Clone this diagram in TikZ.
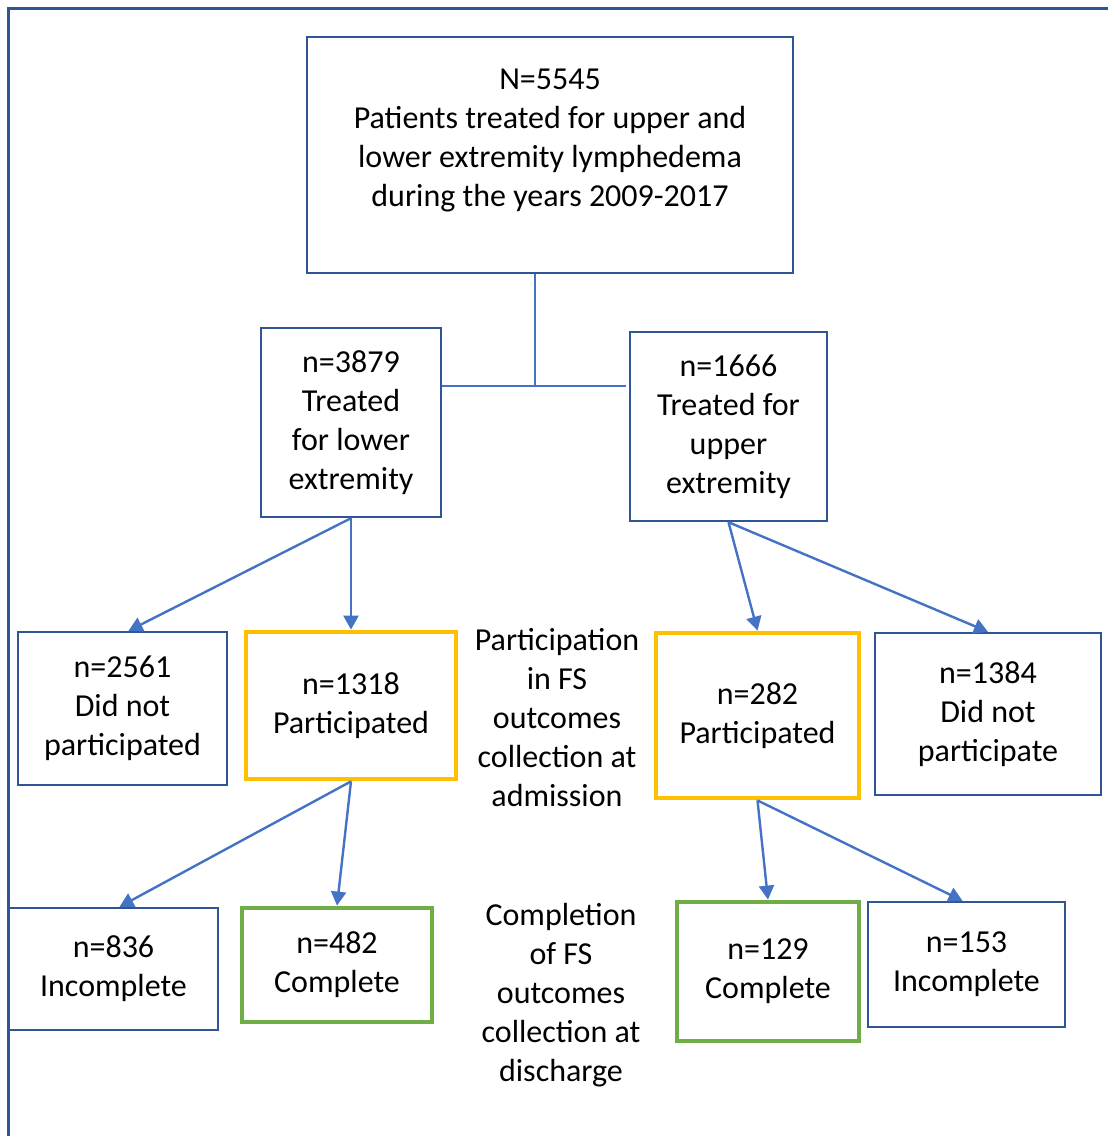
\documentclass[tikz,border=0pt]{standalone}
\usepackage{fontspec}
\setmainfont{Carlito}
\usetikzlibrary{arrows.meta}
\definecolor{boxblue}{HTML}{2F5597}
\definecolor{linkblue}{HTML}{4472C4}
\definecolor{partyellow}{HTML}{FFC000}
\definecolor{donegreen}{HTML}{70AD47}
\tikzset{
  txt/.style={align=center},
  box/.style={txt, draw=boxblue, line width=1.2pt, inner sep=2pt},
  partbox/.style={box, draw=partyellow, line width=2.4pt},
  donebox/.style={box, draw=donegreen, line width=2.4pt},
  link/.style={draw=linkblue, line width=1.2pt},
  flow/.style={link, -{Triangle[width=7.5pt,length=7pt]}}
}
\begin{document}
\begin{tikzpicture}[x=0.5pt, y=-0.5pt, font=\fontsize{16}{19.5}\selectfont]
  \useasboundingbox (0,0) rectangle (1108,1136);
  % frame
  \draw [boxblue, line width=1.5pt] (8,1136) -- (8,8) -- (1108,8);

  % all patients
  \node [draw=boxblue, line width=1.2pt, minimum width=243pt, minimum height=118pt] (all) at (550,155) {};
  \node [txt] (allText) at (550,140.5)
        {N=5545\\Patients treated for upper and\\lower extremity lymphedema\\during the years 2009-2017};

  % lower / upper
  \node [box, minimum width=90pt, minimum height=94.5pt] (lower) at (351,422.5)
        {n=3879\\Treated\\for lower\\extremity};
  \node [box, minimum width=98.5pt, minimum height=94.5pt] (upper) at (728.5,426.5)
        {n=1666\\Treated for\\upper\\extremity};

  % admission
  \node [box, minimum width=104.5pt, minimum height=76.5pt] (noLow) at (122.5,708.5)
        {n=2561\\Did not\\participated};
  \node [partbox, minimum width=105pt, minimum height=73.5pt] (partLow) at (351,705.5)
        {n=1318\\Participated};
  \node [txt] (admit) at (557,717.5)
        {Participation\\in FS\\outcomes\\collection at\\admission};
  \node [partbox, minimum width=101.5pt, minimum height=82.5pt] (partUp) at (757.5,715.5)
        {n=282\\Participated};
  \node [box, minimum width=113pt, minimum height=81pt] (noUp) at (988,714)
        {n=1384\\Did not\\participate};

  % discharge
  \node [box, minimum width=104.5pt, minimum height=61pt] (incLow) at (113.5,969)
        {n=836\\Incomplete};
  \node [donebox, minimum width=95pt, minimum height=57pt] (compLow) at (337,965)
        {n=482\\Complete};
  \node [txt] (disch) at (561,995)
        {Completion\\of FS\\outcomes\\collection at\\discharge};
  \node [donebox, minimum width=91pt, minimum height=69.5pt] (compUp) at (768,971.5)
        {n=129\\Complete};
  \node [box, minimum width=98.5pt, minimum height=62.5pt] (incUp) at (966.5,964.5)
        {n=153\\Incomplete};

  % split
  \coordinate (join) at (535,386);
  \draw [link] (all.south -| join) -- (join)
               (lower.east |- join) -- ([xshift=-1.5pt]upper.west |- join);

  % arrows
  \draw [flow] (lower.south) -- ([xshift=3pt]noLow.north);
  \draw [flow] (lower.south) -- (partLow.north);
  \draw [flow] (upper.south) -- (partUp.north);
  \draw [flow] (upper.south) -- (noUp.north);
  \draw [flow] (partLow.south) -- ([xshift=3pt]incLow.north);
  \draw [flow] (partLow.south) -- (compLow.north);
  \draw [flow] (partUp.south) -- (compUp.north);
  \draw [flow] (partUp.south) -- ([xshift=-2pt]incUp.north);
\end{tikzpicture}
\end{document}
